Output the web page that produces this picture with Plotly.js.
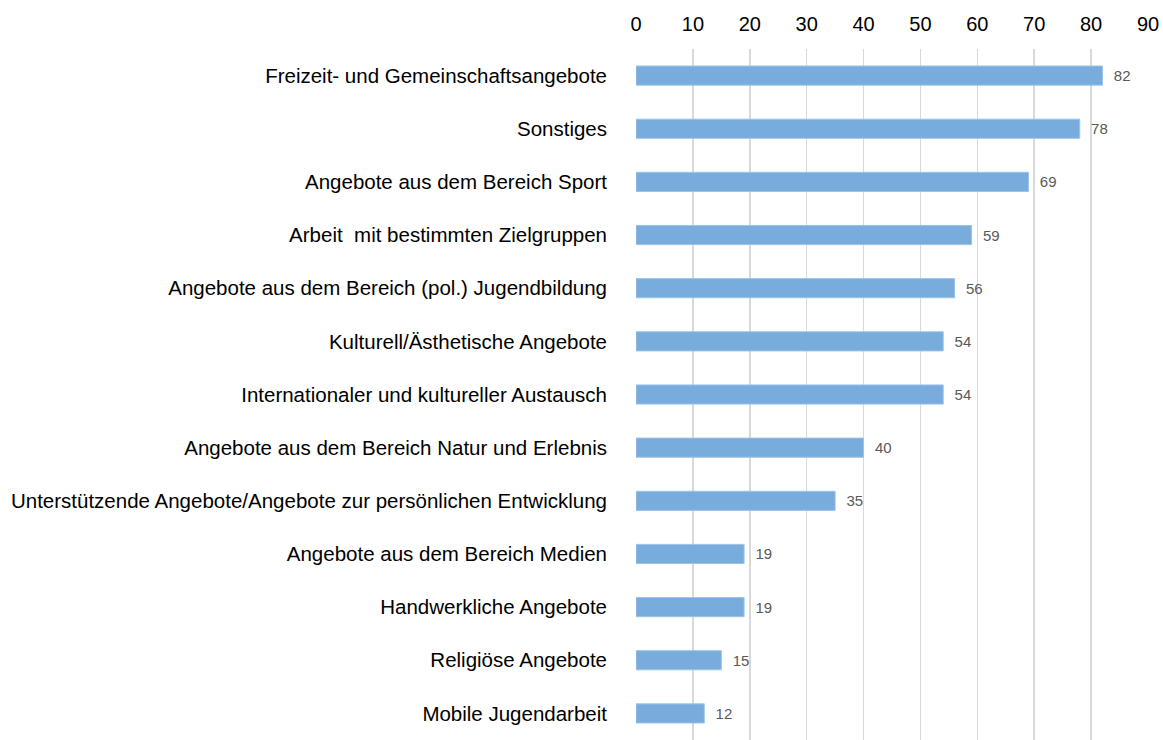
<!DOCTYPE html>
<html><head><meta charset="utf-8">
<script src="https://cdn.plot.ly/plotly-3.0.1.min.js"></script>
<style>html,body{margin:0;padding:0;background:#fff}#chart{width:1163px;height:740px}</style>
</head><body><div id="chart"></div>
<script>
const categories = [
  "Freizeit- und Gemeinschaftsangebote",
  "Sonstiges",
  "Angebote aus dem Bereich Sport",
  "Arbeit  mit bestimmten Zielgruppen",
  "Angebote aus dem Bereich (pol.) Jugendbildung",
  "Kulturell/Ästhetische Angebote",
  "Internationaler und kultureller Austausch",
  "Angebote aus dem Bereich Natur und Erlebnis",
  "Unterstützende Angebote/Angebote zur persönlichen Entwicklung",
  "Angebote aus dem Bereich Medien",
  "Handwerkliche Angebote",
  "Religiöse Angebote",
  "Mobile Jugendarbeit"
];
const values = [82, 78, 69, 59, 56, 54, 54, 40, 35, 19, 19, 15, 12];
const xTicks = [0, 10, 20, 30, 40, 50, 60, 70, 80, 90];

const trace = {
  type: 'bar',
  orientation: 'h',
  y: categories.map(c => c.replace(/  /g, ' \u00a0')),
  x: values,
  text: values.map(v => '\u00a0\u00a0' + v),
  textposition: 'outside',
  cliponaxis: false,
  textfont: {family: 'Liberation Sans, Arial, sans-serif', size: 15, color: '#595959'},
  marker: {color: '#77acdd', line: {color: '#9cc3e8', width: 1}},
  hoverinfo: 'none'
};

const layout = {
  width: 1163, height: 740,
  margin: {l: 636, r: 15, t: 49, b: 0},
  paper_bgcolor: '#ffffff', plot_bgcolor: '#ffffff',
  font: {family: 'Liberation Sans, Arial, sans-serif', color: '#000000'},
  bargap: 0.64,
  showlegend: false,
  xaxis: {
    side: 'top', range: [0, 90], tickvals: xTicks, ticktext: xTicks.map(String),
    showgrid: true, gridcolor: '#d9d9d9', gridwidth: 1.5,
    zeroline: false, showline: false, ticks: '',
    tickfont: {size: 20, color: '#000000'}, ticklabelstandoff: 13, fixedrange: true
  },
  yaxis: {
    autorange: 'reversed', showgrid: false, zeroline: false, showline: false,
    ticks: '', tickfont: {size: 20.5, color: '#000000'}, ticklabelstandoff: 28, fixedrange: true
  }
};
Plotly.newPlot('chart', [trace], layout, {displayModeBar: false, staticPlot: true});
</script></body></html>
